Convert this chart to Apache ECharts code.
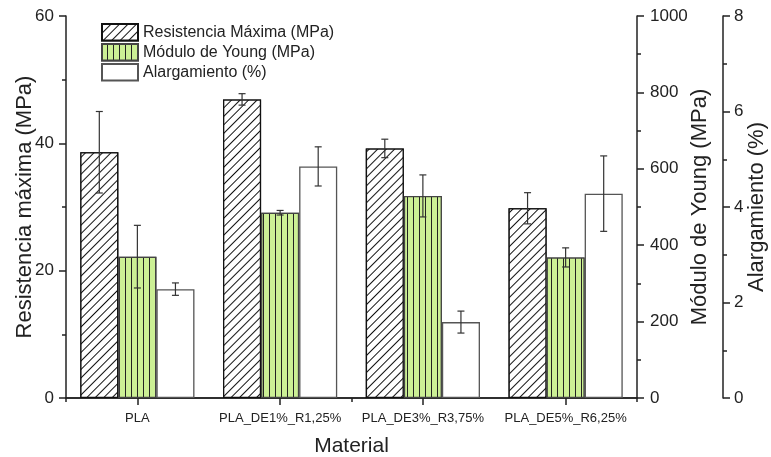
<!DOCTYPE html>
<html>
<head>
<meta charset="utf-8">
<script src="https://cdn.jsdelivr.net/npm/echarts@6/dist/echarts.min.js"></script>
<style>
  html, body { margin: 0; padding: 0; background: #fff; }
  #chart { width: 771px; height: 457px; }
</style>
</head>
<body>
<div id="chart"></div>
<script>
// Materials tested
const materials = ['PLA', 'PLA_DE1%_R1,25%', 'PLA_DE3%_R3,75%', 'PLA_DE5%_R6,25%'];

// Maximum tensile strength (MPa) and standard deviation
const resistencia = [38.6, 46.9, 39.2, 29.8];
const resistenciaErr = [6.4, 0.9, 1.45, 2.45];

// Young's modulus (MPa) and standard deviation
const young = [370, 485, 529, 368];
const youngErr = [82, 6, 55, 25];

// Elongation at break (%) and standard deviation
const alargamiento = [2.28, 4.85, 1.59, 4.28];
const alargamientoErr = [0.13, 0.41, 0.23, 0.79];

const FONT = '"Liberation Sans", Arial, sans-serif';
const INK = '#222';
const CAT_GAP = 0.2;   // share of each category band left empty
const N_BARS = 3;

const chart = echarts.init(document.getElementById('chart'), null, { renderer: 'canvas' });

function yAxisBase(extra, labelMargin) {
  return Object.assign({
    type: 'value',
    nameLocation: 'middle',
    nameMoveOverlap: false,
    nameTextStyle: { fontFamily: FONT, fontSize: 22, color: INK },
    axisLine: { show: true, lineStyle: { color: INK, width: 1.5 } },
    axisTick: { show: true, inside: false, length: 7, lineStyle: { color: INK, width: 1.5 } },
    minorTick: { show: true, splitNumber: 2, length: 4, lineStyle: { color: INK, width: 1.5 } },
    axisLabel: {
      fontFamily: FONT, fontSize: 17, color: INK, margin: labelMargin,
      formatter: function (v) { return String(v); }
    },
    splitLine: { show: false },
    minorSplitLine: { show: false }
  }, extra);
}

// Error bars drawn at the centre of the k-th bar inside each category band
function errorSeries(values, errs, axisIndex, k) {
  return {
    type: 'custom',
    yAxisIndex: axisIndex,
    z: 10,
    silent: true,
    data: values.map((v, i) => [i, v, errs[i]]),
    encode: { x: 0, y: 1 },
    renderItem: function (params, api) {
      const i = api.value(0);
      const v = api.value(1);
      const e = api.value(2);
      const band = api.size([1, 0])[0];
      const barW = band * (1 - CAT_GAP) / N_BARS;
      const dx = (k - (N_BARS - 1) / 2) * barW;
      const hi = api.coord([i, v + e]);
      const lo = api.coord([i, v - e]);
      const x = hi[0] + dx;
      const cap = 3.5;
      const style = { stroke: '#333', lineWidth: 1.2 };
      return {
        type: 'group',
        children: [
          { type: 'line', shape: { x1: x, y1: hi[1], x2: x, y2: lo[1] }, style: style },
          { type: 'line', shape: { x1: x - cap, y1: hi[1], x2: x + cap, y2: hi[1] }, style: style },
          { type: 'line', shape: { x1: x - cap, y1: lo[1], x2: x + cap, y2: lo[1] }, style: style }
        ]
      };
    }
  };
}

const option = {
  animation: false,
  backgroundColor: '#fff',
  grid: { left: 66, right: 134, top: 16, bottom: 59, containLabel: false, outerBoundsMode: 'none' },
  legend: {
    orient: 'vertical',
    left: 101,
    top: 23,
    padding: 0,
    itemWidth: 36,
    itemHeight: 16.5,
    itemGap: 1.5,
    icon: 'rect',
    textStyle: { fontFamily: FONT, fontSize: 16, color: INK },
    data: ['Resistencia Máxima (MPa)', 'Módulo de Young (MPa)', 'Alargamiento (%)']
  },
  xAxis: [
    {
      type: 'category',
      data: materials,
      position: 'bottom',
      name: 'Material',
      nameLocation: 'middle',
      nameMoveOverlap: false,
      nameGap: 38,
      nameTextStyle: { fontFamily: FONT, fontSize: 21, color: INK },
      axisLine: { show: true, lineStyle: { color: INK, width: 1.5 } },
      axisTick: { show: true, alignWithLabel: true, length: 7, lineStyle: { color: INK, width: 1.5 } },
      axisLabel: { fontFamily: FONT, fontSize: 13, color: INK, margin: 14, interval: 0 },
      splitLine: { show: false }
    },
    {
      // boundary ticks between categories
      type: 'category',
      data: materials,
      position: 'bottom',
      axisLine: { show: false },
      axisTick: { show: true, length: 4, lineStyle: { color: INK, width: 1.5 } },
      axisLabel: { show: false },
      splitLine: { show: false }
    },
    {
      // top frame line
      type: 'category',
      data: materials,
      position: 'top',
      axisLine: { show: true, lineStyle: { color: INK, width: 1.5 } },
      axisTick: { show: false },
      axisLabel: { show: false },
      splitLine: { show: false }
    }
  ],
  yAxis: [
    yAxisBase({
      position: 'left', min: 0, max: 60, interval: 20,
      name: 'Resistencia máxima (MPa)', nameGap: 30
    }, 12),
    yAxisBase({
      position: 'right', min: 0, max: 1000, interval: 200,
      name: 'Módulo de Young (MPa)', nameGap: 52
    }, 13),
    yAxisBase({
      position: 'right', offset: 86, min: 0, max: 8, interval: 2,
      name: 'Alargamiento (%)', nameGap: 23
    }, 11)
  ],
  series: [
    {
      name: 'Resistencia Máxima (MPa)',
      type: 'bar',
      yAxisIndex: 0,
      data: resistencia,
      barGap: '0%',
      barCategoryGap: (CAT_GAP * 100) + '%',
      itemStyle: {
        color: '#fff',
        borderColor: '#111',
        borderWidth: 1.3,
        decal: {
          symbol: 'rect',
          symbolSize: 1,
          color: '#111',
          backgroundColor: '#fff',
          dashArrayX: [1, 0],
          dashArrayY: [1, 5],
          rotation: -Math.PI / 4
        }
      }
    },
    {
      name: 'Módulo de Young (MPa)',
      type: 'bar',
      yAxisIndex: 1,
      data: young,
      barGap: '0%',
      barCategoryGap: (CAT_GAP * 100) + '%',
      itemStyle: {
        color: '#ccf095',
        borderColor: '#444',
        borderWidth: 1.3,
        decal: {
          symbol: 'rect',
          symbolSize: 1,
          color: '#222',
          backgroundColor: '#ccf095',
          dashArrayX: [1, 0],
          dashArrayY: [1, 4.5],
          rotation: Math.PI / 2
        }
      }
    },
    {
      name: 'Alargamiento (%)',
      type: 'bar',
      yAxisIndex: 2,
      data: alargamiento,
      barGap: '0%',
      barCategoryGap: (CAT_GAP * 100) + '%',
      itemStyle: { color: '#fff', borderColor: '#555', borderWidth: 1.3 }
    },
    errorSeries(resistencia, resistenciaErr, 0, 0),
    errorSeries(young, youngErr, 1, 1),
    errorSeries(alargamiento, alargamientoErr, 2, 2)
  ]
};

chart.setOption(option);
</script>
</body>
</html>
